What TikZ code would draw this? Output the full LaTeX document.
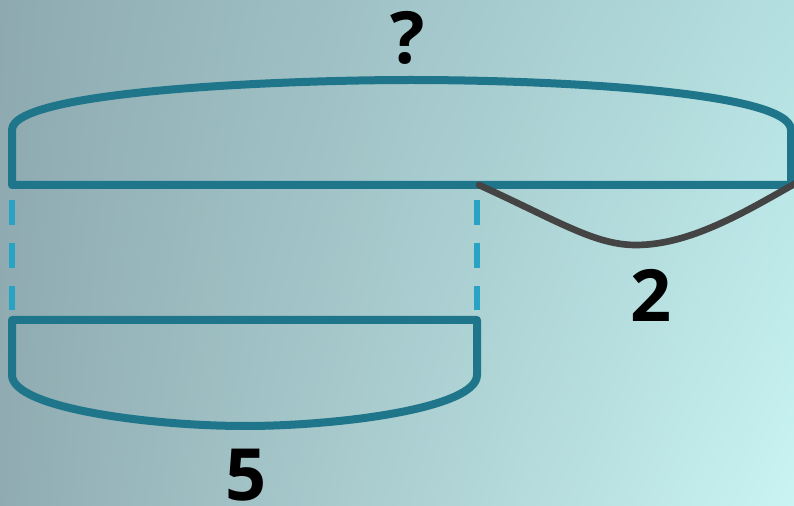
\documentclass[tikz,border=0pt]{standalone}
\usepackage{fontspec}
\setmainfont{Open Sans}
\usetikzlibrary{positioning, shadings}
\definecolor{barteal}{HTML}{1F7589}
\definecolor{dashblue}{HTML}{29A3C4}
\definecolor{partgray}{HTML}{444444}
\definecolor{bgtl}{HTML}{8EAAB0}
\definecolor{bgtr}{HTML}{B4DFE0}
\definecolor{bgbl}{HTML}{90ACB2}
\definecolor{bgbr}{HTML}{C9F4F3}

\begin{document}
\begin{tikzpicture}[
    x=0.75pt, y=-0.75pt,
    brace/.style={draw=barteal, line width=6pt, line join=round},
    guide/.style={draw=dashblue, line width=4.5pt, dash pattern=on 18.75pt off 13.5pt},
    part/.style={draw=partgray, line width=5pt, line cap=round},
    numlabel/.style={font=\bfseries\fontsize{54}{54}\selectfont, text=black, inner sep=0pt},
]
    % Background
    \shade[upper left=bgtl, upper right=bgtr, lower left=bgbl, lower right=bgbr] (0,0) rectangle (794,506);
    \useasboundingbox (0,0) rectangle (794,506);

    % Whole bar with brace on top
    \draw[brace] (12,185) -- (12,130) .. controls (12,90) and (290,80) .. (410,80)
        .. controls (560,80) and (791,92) .. (791,130) -- (791,185) -- cycle;

    % Dashed guides
    \draw[guide] (12,200) -- (12,310);
    \draw[guide] (477,200) -- (477,310);

    % Known part with brace below
    \draw[brace] (12,320) -- (12,375) .. controls (12,408) and (150,426) .. (245,426)
        .. controls (340,426) and (477,408) .. (477,375) -- (477,320) -- cycle;

    % Difference
    \draw[part] (479,185) .. controls (560,222) and (595,245) .. (636,245)
        .. controls (690,245) and (745,212) .. (796,183);

    % Labels
    \node[numlabel] (whole) at (408,38) {?};
    \node[numlabel] (diff) at (651,295) {2};
    \node[numlabel] (known) at (246,475) {5};
\end{tikzpicture}
\end{document}
